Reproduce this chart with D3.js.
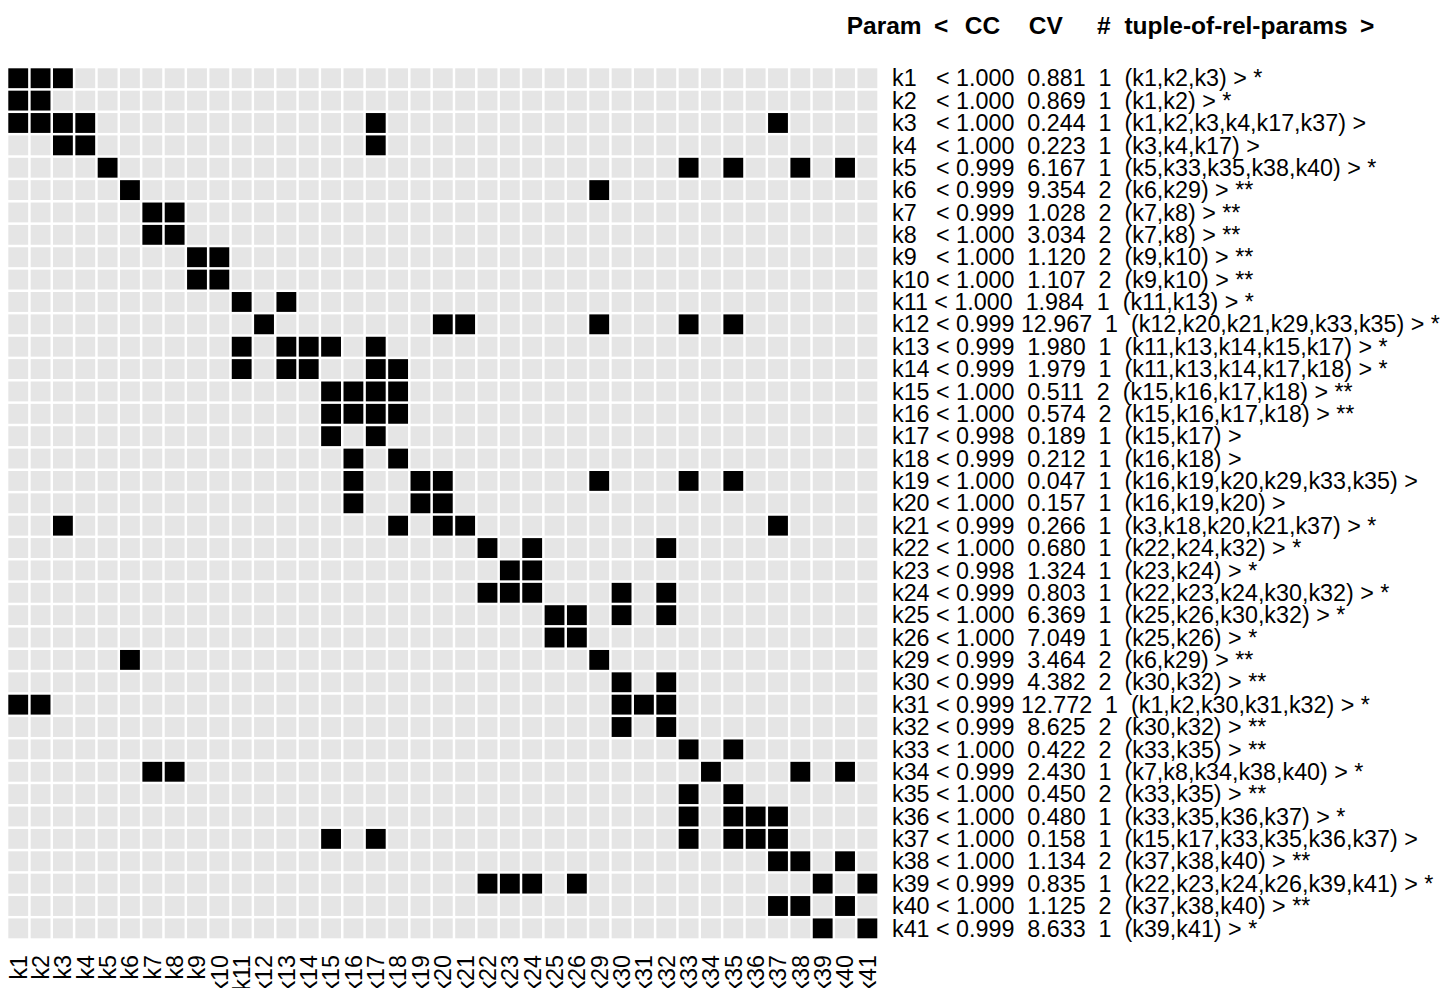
<!DOCTYPE html>
<html>
<head>
<meta charset="utf-8">
<script src="https://cdn.jsdelivr.net/npm/d3@7"></script>
<style>
  html, body { margin: 0; padding: 0; background: #ffffff; }
  svg { display: block; }
  text { font-family: "Liberation Sans", Arial, Helvetica, sans-serif; }
</style>
</head>
<body>
<svg id="chart" width="1445" height="988"></svg>
<script>
// Parameters (rows and columns of the relation matrix)
const params = ["k1","k2","k3","k4","k5","k6","k7","k8","k9","k10",
  "k11","k12","k13","k14","k15","k16","k17","k18","k19","k20",
  "k21","k22","k23","k24","k25","k26","k29","k30","k31","k32",
  "k33","k34","k35","k36","k37","k38","k39","k40","k41"];

// Correlation coefficient per parameter
const ccValues = [1.000,1.000,1.000,1.000,0.999,0.999,0.999,1.000,1.000,1.000,
  1.000,0.999,0.999,0.999,1.000,1.000,0.998,0.999,1.000,1.000,
  0.999,1.000,0.998,0.999,1.000,1.000,0.999,0.999,0.999,0.999,
  1.000,0.999,1.000,1.000,1.000,1.000,0.999,1.000,0.999];

// Coefficient of variation per parameter
const cvValues = [0.881,0.869,0.244,0.223,6.167,9.354,1.028,3.034,1.120,1.107,
  1.984,12.967,1.980,1.979,0.511,0.574,0.189,0.212,0.047,0.157,
  0.266,0.680,1.324,0.803,6.369,7.049,3.464,4.382,12.772,8.625,
  0.422,2.430,0.450,0.480,0.158,1.134,0.835,1.125,8.633];

// Number of related tuples
const tupleCounts = [1,1,1,1,1,2,2,2,2,2,
  1,1,1,1,2,2,1,1,1,1,
  1,1,1,1,1,1,2,2,1,2,
  2,1,2,1,1,2,1,2,1];

// Tuple of related parameters for each row
const tuples = [
  ["k1","k2","k3"], ["k1","k2"], ["k1","k2","k3","k4","k17","k37"], ["k3","k4","k17"],
  ["k5","k33","k35","k38","k40"], ["k6","k29"], ["k7","k8"], ["k7","k8"],
  ["k9","k10"], ["k9","k10"], ["k11","k13"], ["k12","k20","k21","k29","k33","k35"],
  ["k11","k13","k14","k15","k17"], ["k11","k13","k14","k17","k18"],
  ["k15","k16","k17","k18"], ["k15","k16","k17","k18"], ["k15","k17"], ["k16","k18"],
  ["k16","k19","k20","k29","k33","k35"], ["k16","k19","k20"],
  ["k3","k18","k20","k21","k37"], ["k22","k24","k32"], ["k23","k24"],
  ["k22","k23","k24","k30","k32"], ["k25","k26","k30","k32"], ["k25","k26"],
  ["k6","k29"], ["k30","k32"], ["k1","k2","k30","k31","k32"], ["k30","k32"],
  ["k33","k35"], ["k7","k8","k34","k38","k40"], ["k33","k35"], ["k33","k35","k36","k37"],
  ["k15","k17","k33","k35","k36","k37"], ["k37","k38","k40"],
  ["k22","k23","k24","k26","k39","k41"], ["k37","k38","k40"], ["k39","k41"]
];

// Significance marks
const marks = ["*","*","","","*","**","**","**","**","**",
  "*","*","*","*","**","**","","","","",
  "*","*","*","*","*","*","**","**","*","**",
  "**","*","**","*","","**","*","**","*"];

// Header pieces
const headerParts = ["Param","<","CC","CV","#","tuple-of-rel-params",">"];
const headerX = [846.7, 934, 964.8, 1028.8, 1097, 1124.4, 1360];

const svg = d3.select("#chart");

const x = d3.scaleBand().domain(params).range([7.05, 878.55]).paddingInner(0.112).paddingOuter(0.056);
const y = d3.scaleBand().domain(params).range([67.05, 939.55]).paddingInner(0.112).paddingOuter(0.056);

// Cells of the relation matrix
const cells = [];
params.forEach((r, i) => {
  const related = new Set(tuples[i]);
  params.forEach(c => cells.push({ row: r, col: c, on: related.has(c) }));
});

svg.append("g")
  .selectAll("rect")
  .data(cells)
  .join("rect")
  .attr("x", d => x(d.col))
  .attr("y", d => y(d.row))
  .attr("width", x.bandwidth())
  .attr("height", y.bandwidth())
  .attr("fill", d => d.on ? "#000000" : "#e5e5e5");

// Column labels, rotated
svg.append("g")
  .selectAll("text")
  .data(params)
  .join("text")
  .attr("transform", d => `translate(${x(d) + x.bandwidth() / 2},955) rotate(-90)`)
  .attr("dy", "0.36em")
  .attr("text-anchor", "end")
  .attr("font-size", 23.3)
  .attr("fill", "#000")
  .text(d => d);

// Row annotations
function rowLine(i) {
  const p = params[i];
  const pad = p.length < 3 ? "   " : " ";
  const cv = cvValues[i] < 10 ? " " + cvValues[i].toFixed(3) : cvValues[i].toFixed(3);
  const tail = marks[i] ? " > " + marks[i] : " >";
  return `${p}${pad}< ${ccValues[i].toFixed(3)} ${cv}  ${tupleCounts[i]}  (${tuples[i].join(",")})${tail}`;
}

svg.append("g")
  .selectAll("text")
  .data(params)
  .join("text")
  .attr("x", 892)
  .attr("y", d => y(d) + y.bandwidth() / 2)
  .attr("dy", "0.35em")
  .attr("font-size", 23.3)
  .attr("fill", "#000")
  .style("white-space", "pre")
  .text((d, i) => rowLine(i));

// Header
svg.append("g")
  .selectAll("text")
  .data(headerParts)
  .join("text")
  .attr("x", (d, i) => headerX[i])
  .attr("y", 34)
  .attr("font-size", 24.5)
  .attr("font-weight", "bold")
  .attr("fill", "#000")
  .text(d => d);
</script>
</body>
</html>
